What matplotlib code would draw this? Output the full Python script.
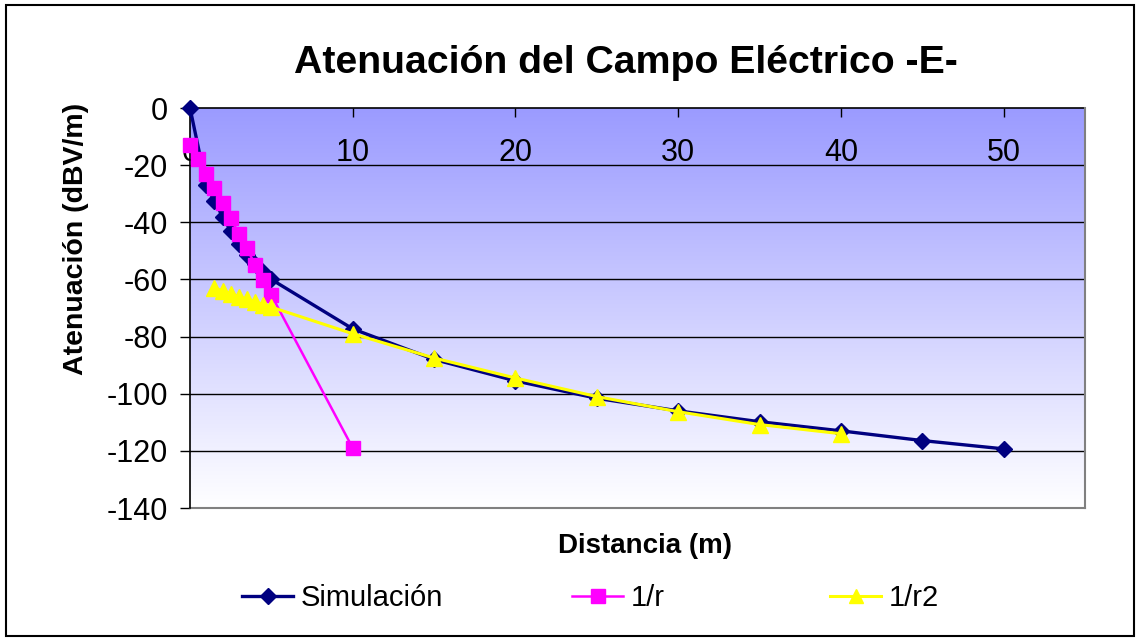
import numpy as np
import matplotlib
matplotlib.use("Agg")
import matplotlib.pyplot as plt
from matplotlib.colors import LinearSegmentedColormap
from matplotlib.patches import Rectangle

plt.rcParams['font.family'] = ['Liberation Sans', 'DejaVu Sans']
plt.rcParams['axes.unicode_minus'] = False

# ---- data ----
title = "Atenuación del Campo Eléctrico -E-"
xlabel = "Distancia (m)"
ylabel = "Atenuación (dBV/m)"

sim_label = "Simulación"
sim_x = [0, 1, 1.5, 2, 2.5, 3, 3.5, 4, 4.5, 5, 10, 15, 20, 25, 30, 35, 40, 45, 50]
sim_y = [0, -27, -32.5, -38, -43, -47.5, -51.5, -54.5, -57.3, -60, -77.3, -88, -95.5,
         -101.6, -106, -109.8, -113, -116.4, -119.3]

r1_label = "1/r"
r1_x = [0, 0.5, 1, 1.5, 2, 2.5, 3, 3.5, 4, 4.5, 5, 10]
r1_y = [-13, -18, -23, -28, -33.4, -38.6, -44, -49, -55, -60.2, -65.5, -119]

r2_label = "1/r2"
r2_x = [1.5, 2, 2.5, 3, 3.5, 4, 4.5, 5, 10, 15, 20, 25, 30, 35, 40]
r2_y = [-63, -64, -65, -66, -67, -68, -68.8, -69.7, -79, -87.5, -94.5, -101, -106.3,
        -110.8, -114]

x_ticks = [0, 10, 20, 30, 40, 50]
y_ticks = [-140, -120, -100, -80, -60, -40, -20, 0]

# ---- figure ----
W, H = 1141, 640
fig = plt.figure(figsize=(W / 100, H / 100), dpi=100)
fig.patch.set_facecolor('white')

L, R, T, B = 190, 1085, 108, 508
ax = fig.add_axes([L / W, (H - B) / H, (R - L) / W, (B - T) / H])

# gradient background
cmap = LinearSegmentedColormap.from_list('bg', [(155/255, 155/255, 1.0), (1, 1, 1)])
grad = np.linspace(0, 1, 256).reshape(-1, 1)
ax.imshow(grad, cmap=cmap, aspect='auto', extent=[0, 1, 0, 1],
          transform=ax.transAxes, zorder=0, interpolation='bicubic')
ax.set_facecolor('white')

ax.set_xlim(0, 55)
ax.set_ylim(-140, 0)

# gridlines
for yv in y_ticks[1:-1]:
    ax.axhline(yv, color='black', lw=1.0, zorder=1)

# series
navy = '#000080'
mag = '#FF00FF'
yel = '#FFFF00'
l1, = ax.plot(sim_x, sim_y, color=navy, lw=2.4, marker='D', markersize=8.5,
              markerfacecolor=navy, markeredgecolor=navy, zorder=3, clip_on=False)
l2, = ax.plot(r1_x, r1_y, color=mag, lw=1.8, marker='s', markersize=10.5,
              markerfacecolor=mag, markeredgecolor=mag, zorder=4, clip_on=False)
l3, = ax.plot(r2_x, r2_y, color=yel, lw=2.2, marker='^', markersize=11,
              markerfacecolor=yel, markeredgecolor=yel, zorder=5, clip_on=False)

# axes / spines
ax.spines['bottom'].set_position(('data', 0))
ax.spines['bottom'].set_color('black')
ax.spines['bottom'].set_linewidth(1.2)
ax.spines['bottom'].set_zorder(2)
ax.spines['top'].set_visible(False)
ax.spines['left'].set_color('black')
ax.spines['left'].set_linewidth(1.2)
ax.spines['right'].set_color('#808080')
ax.spines['right'].set_linewidth(1.5)
ax.axhline(-140, color='#808080', lw=1.5, zorder=2, clip_on=False)

ax.set_xticks(x_ticks)
ax.set_xticklabels([str(v) for v in x_ticks])
ax.set_yticks(y_ticks)
ax.set_yticklabels([str(v) for v in y_ticks])
ax.tick_params(axis='x', direction='out', length=6.5, width=1, pad=15,
               labelsize=22, colors='black')
ax.tick_params(axis='y', direction='out', length=7, width=1, pad=9,
               labelsize=22, colors='black')

ax.set_xlabel(xlabel, fontsize=20, fontweight='bold')
ax.xaxis.set_label_coords((645 - L) / (R - L), (B - 533) / (B - T))
ax.set_ylabel(ylabel, fontsize=20.5, fontweight='bold')
ax.yaxis.set_label_coords((89 - L) / (R - L), (B - 239) / (B - T))

fig.text(626 / W, 1 - 63 / H, title, ha='center', va='center',
         fontsize=28.3, fontweight='bold')

# legend entries
fs = 21
for handle, lab, xs in [(l1, sim_label, 242), (l2, r1_label, 572), (l3, r2_label, 830)]:
    fig.legend([handle], [lab], loc='center left',
               bbox_to_anchor=(xs / W, 1 - 598 / H), frameon=False,
               fontsize=fs, borderpad=0, borderaxespad=0,
               handlelength=1.75, handletextpad=0.25, markerscale=0.9)

# outer border
fig.patches.append(Rectangle((6 / W, 4 / H), (1134 - 6) / W, (635 - 4) / H,
                             transform=fig.transFigure, fill=False,
                             edgecolor='black', lw=1.5))

fig.savefig('out.png', dpi=100)
